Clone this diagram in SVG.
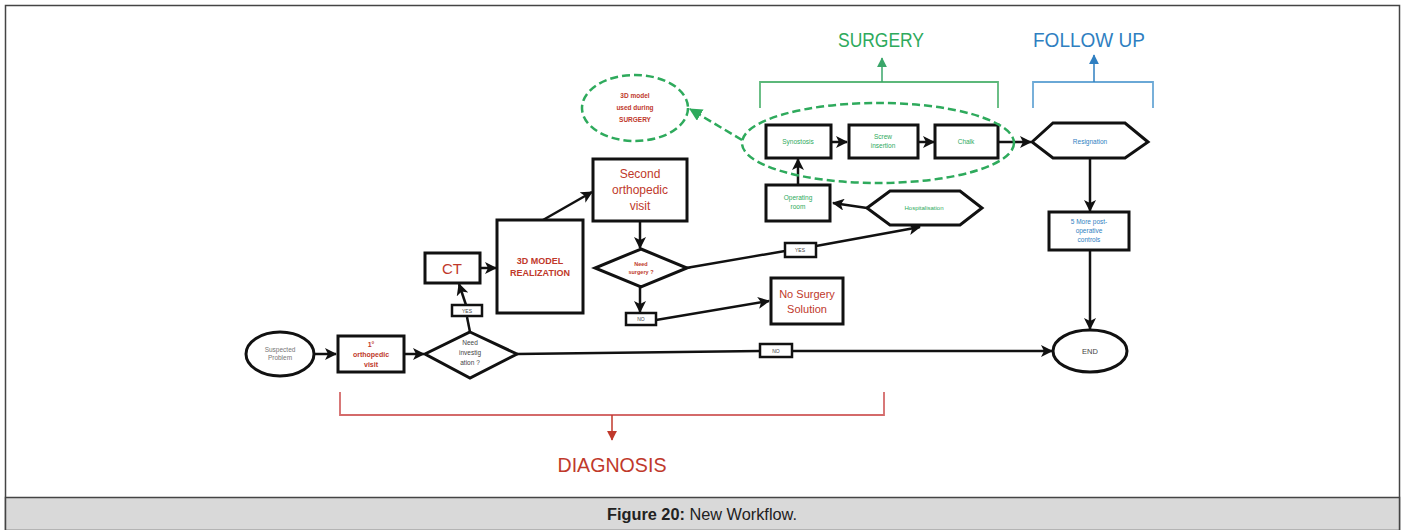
<svg xmlns="http://www.w3.org/2000/svg" width="1405" height="530" viewBox="0 0 1405 530">
<style>
.box{fill:#fff;stroke:#111;stroke-width:3}
.ln{fill:none;stroke:#111;stroke-width:2.5}
.lbl{fill:#fff;stroke:#111;stroke-width:2.5}
.t{font-family:"Liberation Sans",Arial,sans-serif;text-anchor:middle}
.red{fill:#c0392b}
.grn{fill:#2eaa5c}
.blu{fill:#2f7fc1}
.gry{fill:#777}
.dash{fill:none;stroke:#2eaa5c;stroke-width:2.5;stroke-dasharray:8,4}
</style>
<defs>
<marker id="ar" viewBox="0 0 12 12" refX="11" refY="6" markerWidth="12" markerHeight="12" markerUnits="userSpaceOnUse" orient="auto">
<path d="M0,0 L12,6 L0,12 L3,6 z" fill="#111"/>
</marker>
<marker id="arg" viewBox="0 0 12 12" refX="11" refY="6" markerWidth="13" markerHeight="13" markerUnits="userSpaceOnUse" orient="auto">
<path d="M0,0 L12,6 L0,12 z" fill="#2eaa5c"/>
</marker>
<marker id="arr" viewBox="0 0 12 12" refX="11" refY="6" markerWidth="10" markerHeight="10" markerUnits="userSpaceOnUse" orient="auto">
<path d="M0,0 L12,6 L0,12 z" fill="#c0392b"/>
</marker>
<marker id="arsg" viewBox="0 0 12 12" refX="11" refY="6" markerWidth="10" markerHeight="10" markerUnits="userSpaceOnUse" orient="auto">
<path d="M0,0 L12,6 L0,12 z" fill="#3aa66a"/>
</marker>
<marker id="arb" viewBox="0 0 12 12" refX="11" refY="6" markerWidth="10" markerHeight="10" markerUnits="userSpaceOnUse" orient="auto">
<path d="M0,0 L12,6 L0,12 z" fill="#2f7fc1"/>
</marker>
</defs>

<!-- frame -->
<rect x="5.5" y="5.5" width="1394" height="524" fill="#fff" stroke="#444" stroke-width="1.5"/>
<rect x="5.5" y="497.5" width="1394" height="33" fill="#d9d9d9" stroke="#444" stroke-width="1.5"/>
<text x="702" y="520" font-family="'Liberation Sans',Arial,sans-serif" font-size="16" text-anchor="middle" fill="#222" textLength="190" lengthAdjust="spacingAndGlyphs"><tspan font-weight="bold">Figure 20:</tspan> New Workflow.</text>

<!-- connectors -->
<g id="connectors">
<path class="ln" d="M314,354 L336,354" marker-end="url(#ar)"/>
<path class="ln" d="M404,354 L424,354" marker-end="url(#ar)"/>
<path class="ln" d="M470,332 L467,317"/>
<path class="ln" d="M466,305 L459,284" marker-end="url(#ar)"/>
<path class="ln" d="M480,268 L496,268" marker-end="url(#ar)"/>
<path class="ln" d="M543,220 L592,192" marker-end="url(#ar)"/>
<path class="ln" d="M640,221 L640,248" marker-end="url(#ar)"/>
<path class="ln" d="M640,287 L640,312" marker-end="url(#ar)"/>
<path class="ln" d="M656,320 L769,301" marker-end="url(#ar)"/>
<path class="ln" d="M686,268 L785,251"/>
<path class="ln" d="M816,246 L920,227" marker-end="url(#ar)"/>
<path class="ln" d="M867,208 L833,203" marker-end="url(#ar)"/>
<path class="ln" d="M798,185 L798,159" marker-end="url(#ar)"/>
<path class="ln" d="M831,142 L847,142" marker-end="url(#ar)"/>
<path class="ln" d="M918,142 L934,142" marker-end="url(#ar)"/>
<path class="ln" d="M998,142 L1031,142" marker-end="url(#ar)"/>
<path class="ln" d="M1090,158 L1090,211" marker-end="url(#ar)"/>
<path class="ln" d="M1090,250 L1090,329" marker-end="url(#ar)"/>
<path class="ln" d="M517,354 L760,351"/>
<path class="ln" d="M792,351 L1052,351" marker-end="url(#ar)"/>
<path class="dash" d="M742,140 L690,109" marker-end="url(#arg)"/>
</g>

<!-- brackets -->
<g id="bracket-diagnosis">
<path d="M340,392 L340,415 L884,415 L884,392" fill="none" stroke="#d46a6a" stroke-width="1.8"/>
<path d="M612,415 L612,440" fill="none" stroke="#c0392b" stroke-width="1.5" marker-end="url(#arr)"/>
<text class="t red" x="612" y="472" font-size="21" textLength="109" lengthAdjust="spacingAndGlyphs">DIAGNOSIS</text>
</g>
<g id="bracket-surgery">
<path d="M760,108 L760,82 L998,82 L998,108" fill="none" stroke="#5cb87a" stroke-width="1.8"/>
<path d="M882,82 L882,58" fill="none" stroke="#3aa66a" stroke-width="1.5" marker-end="url(#arsg)"/>
<text class="t grn" x="881" y="47" font-size="20" textLength="86" lengthAdjust="spacingAndGlyphs">SURGERY</text>
</g>
<g id="bracket-followup">
<path d="M1033,108 L1033,82 L1153,82 L1153,108" fill="none" stroke="#6aa8d6" stroke-width="1.8"/>
<path d="M1094,82 L1094,55" fill="none" stroke="#2f7fc1" stroke-width="1.5" marker-end="url(#arb)"/>
<text class="t blu" x="1089" y="47" font-size="20" textLength="112" lengthAdjust="spacingAndGlyphs">FOLLOW UP</text>
</g>

<!-- nodes -->
<g id="suspected">
<ellipse class="box" cx="280" cy="354" rx="34" ry="22"/>
<text class="t gry" x="280" y="352" font-size="6.5">Suspected</text>
<text class="t gry" x="280" y="360" font-size="6.5">Problem</text>
</g>
<g id="first-visit">
<rect class="box" x="338" y="336" width="66" height="36"/>
<text class="t red" x="371" y="347" font-size="7" font-weight="bold">1°</text>
<text class="t red" x="371" y="357" font-size="7" font-weight="bold">orthopedic</text>
<text class="t red" x="371" y="367" font-size="7" font-weight="bold">visit</text>
</g>
<g id="need-investigation">
<polygon class="box" points="470,332 517,354 470,378 425,354"/>
<text class="t" x="470" y="345" font-size="6.5" fill="#444">Need</text>
<text class="t" x="470" y="355" font-size="6.5" fill="#444">investig</text>
<text class="t" x="470" y="365" font-size="6.5" fill="#444">ation ?</text>
</g>
<g id="yes-1">
<rect class="lbl" x="452" y="305" width="30" height="11"/>
<text class="t" x="467" y="313" font-size="5" fill="#444">YES</text>
</g>
<g id="ct">
<rect class="box" x="425" y="253" width="55" height="30"/>
<text class="t red" x="452" y="274" font-size="15">CT</text>
</g>
<g id="model-realization">
<rect class="box" x="497" y="220" width="86" height="93"/>
<text class="t red" x="540" y="264" font-size="9" font-weight="bold">3D MODEL</text>
<text class="t red" x="540" y="276" font-size="9" font-weight="bold">REALIZATION</text>
</g>
<g id="second-visit">
<rect class="box" x="593" y="159" width="94" height="62"/>
<text class="t red" x="640" y="178" font-size="12">Second</text>
<text class="t red" x="640" y="194" font-size="12">orthopedic</text>
<text class="t red" x="640" y="210" font-size="12">visit</text>
</g>
<g id="need-surgery">
<polygon class="box" points="641,249 687,268 641,287 595,268"/>
<text class="t red" x="641" y="266" font-size="5.5" font-weight="bold">Need</text>
<text class="t red" x="641" y="274" font-size="5.5" font-weight="bold">surgery ?</text>
</g>
<g id="no-1">
<rect class="lbl" x="626" y="313" width="30" height="12"/>
<text class="t" x="641" y="321" font-size="5" fill="#444">NO</text>
</g>
<g id="no-surgery">
<rect class="box" x="771" y="278" width="72" height="46"/>
<text class="t red" x="807" y="298" font-size="11">No Surgery</text>
<text class="t red" x="807" y="313" font-size="11">Solution</text>
</g>
<g id="yes-2">
<rect class="lbl" x="785" y="243" width="31" height="14"/>
<text class="t" x="800" y="252" font-size="5" fill="#444">YES</text>
</g>
<g id="hospitalisation">
<polygon class="box" points="867,208 890,191 960,191 982,208 960,225 890,225"/>
<text class="t grn" x="924" y="210" font-size="6">Hospitalisation</text>
</g>
<g id="operating-room">
<rect class="box" x="766" y="185" width="64" height="36"/>
<text class="t grn" x="798" y="200" font-size="6.5">Operating</text>
<text class="t grn" x="798" y="209" font-size="6.5">room</text>
</g>
<g id="synostosis">
<rect class="box" x="766" y="125" width="65" height="33"/>
<text class="t grn" x="798" y="144" font-size="6.5">Synostosis</text>
</g>
<g id="screw">
<rect class="box" x="849" y="125" width="69" height="33"/>
<text class="t grn" x="883" y="139" font-size="6.5">Screw</text>
<text class="t grn" x="883" y="148" font-size="6.5">insertion</text>
</g>
<g id="chalk">
<rect class="box" x="935" y="125" width="63" height="33"/>
<text class="t grn" x="966" y="144" font-size="6.5">Chalk</text>
</g>
<g id="surgery-group">
<ellipse class="dash" cx="878" cy="143" rx="136" ry="40"/>
</g>
<g id="model-used">
<ellipse class="dash" cx="635" cy="108" rx="53" ry="33"/>
<text class="t red" x="635" y="98" font-size="6.5" font-weight="bold">3D model</text>
<text class="t red" x="635" y="110" font-size="6.5" font-weight="bold">used during</text>
<text class="t red" x="635" y="122" font-size="6.5" font-weight="bold">SURGERY</text>
</g>
<g id="resignation">
<polygon class="box" points="1032,142 1053,123 1125,123 1148,142 1125,158 1053,158"/>
<text class="t blu" x="1090" y="144" font-size="6.5">Resignation</text>
</g>
<g id="post-op">
<rect class="box" x="1049" y="212" width="80" height="38"/>
<text class="t blu" x="1089" y="224" font-size="6.5">5 More post-</text>
<text class="t blu" x="1089" y="233" font-size="6.5">operative</text>
<text class="t blu" x="1089" y="242" font-size="6.5">controls</text>
</g>
<g id="end">
<ellipse class="box" cx="1090" cy="351" rx="37" ry="21"/>
<text class="t" x="1090" y="354" font-size="7.5" fill="#444">END</text>
</g>
<g id="no-2">
<rect class="lbl" x="760" y="344" width="32" height="13"/>
<text class="t" x="776" y="353" font-size="5" fill="#444">NO</text>
</g>
</svg>
